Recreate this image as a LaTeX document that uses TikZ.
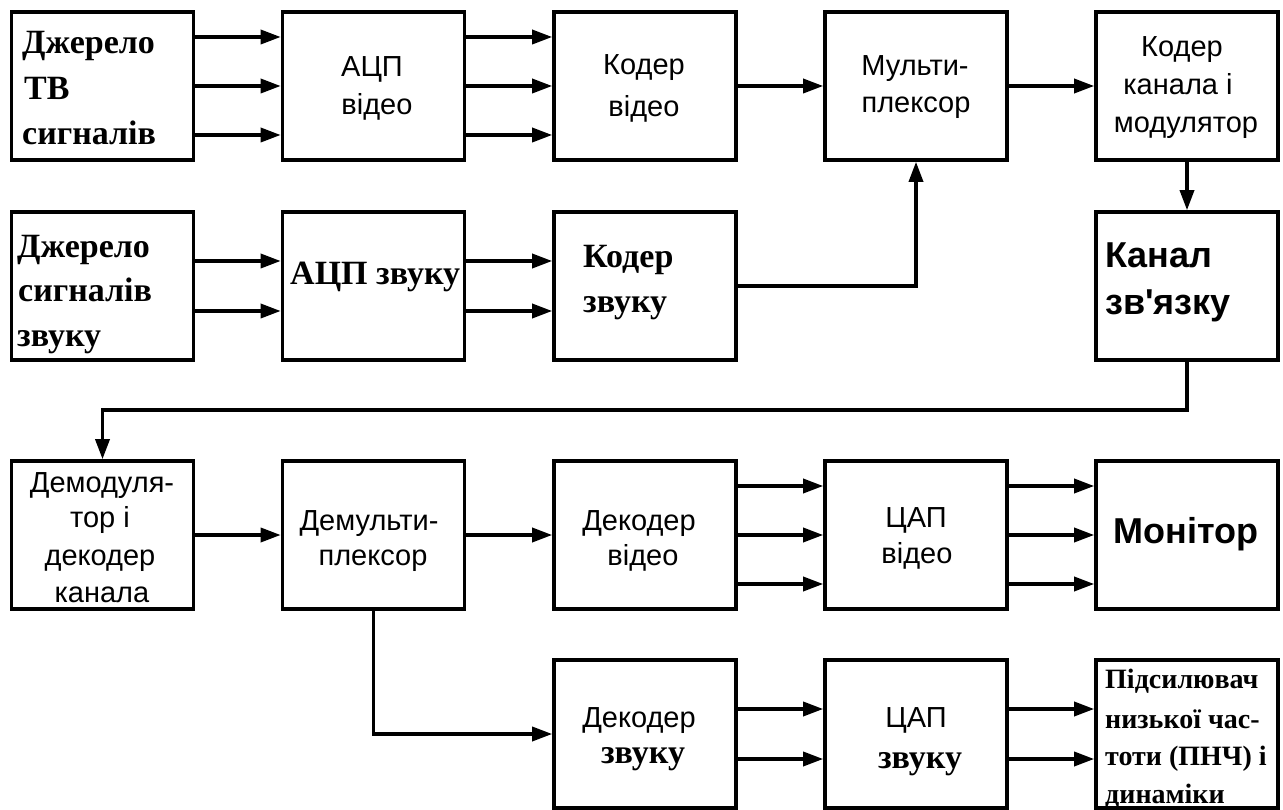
\documentclass[tikz,border=0pt]{standalone}
\usepackage{fontspec}
\setmainfont{Liberation Serif}
\newfontfamily\sansf{Liberation Sans}
\usetikzlibrary{arrows.meta}
\begin{document}
\begin{tikzpicture}[x=1pt,y=-1pt,
  blk/.style={draw, line width=3.6pt, minimum width=182pt, minimum height=148pt, inner sep=0pt},
  arr/.style={line width=3.4pt, -{Triangle[length=20pt,width=14pt]}},
  sn/.style={font=\sansf\fontsize{29}{35}\selectfont, inner sep=0pt, anchor=base},
  sbc/.style={font=\bfseries\fontsize{34}{40}\selectfont, inner sep=0pt, anchor=base},
  sbl/.style={font=\bfseries\fontsize{34}{40}\selectfont, inner sep=0pt, anchor=base west},
  sql/.style={font=\bfseries\fontsize{28}{34}\selectfont, inner sep=0pt, anchor=base west},
  snb/.style={font=\sansf\bfseries\fontsize{36}{42}\selectfont, inner sep=0pt},
]
\useasboundingbox (0,0) rectangle (1283,810);
% blocks
\node[blk] (A) at (102.5,86) {};
\node[blk] (B) at (373.5,86) {};
\node[blk] (C) at (645,86) {};
\node[blk] (D) at (916,86) {};
\node[blk] (E) at (1187,86) {};
\node[blk] (F) at (102.5,286) {};
\node[blk] (G) at (373.5,286) {};
\node[blk] (H) at (645,286) {};
\node[blk] (I) at (1187,286) {};
\node[blk] (J) at (102.5,535) {};
\node[blk] (K) at (373.5,535) {};
\node[blk] (L) at (645,535) {};
\node[blk] (M) at (916,535) {};
\node[blk] (N) at (1187,535) {};
\node[blk] (O) at (645,734) {};
\node[blk] (P) at (916,734) {};
\node[blk] (Q) at (1187,734) {};
% texts
\node[sbl] (tA1) at (22,54) {Джерело};
\node[sbl] (tA2) at (24,100) {ТВ};
\node[sbl] (tA3) at (22,145) {сигналів};
\node[sn] (tB1) at (372,77) {АЦП};
\node[sn] (tB2) at (377,115) {відео};
\node[sn] (tC1) at (644,75) {Кодер};
\node[sn] (tC2) at (644,117) {відео};
\node[sn] (tD1) at (915,76) {Мульти-};
\node[sn] (tD2) at (916,113) {плексор};
\node[sn] (tE1) at (1182,57) {Кодер};
\node[sn] (tE2) at (1178,95) {канала і};
\node[sn] (tE3) at (1186,133) {модулятор};
\node[sbl] (tF1) at (17,258) {Джерело};
\node[sbl] (tF2) at (18,302) {сигналів};
\node[sbl] (tF3) at (17,347) {звуку};
\node[sbl] (tG1) at (290,285) {АЦП звуку};
\node[sbl] (tH1) at (583,268) {Кодер};
\node[sbl] (tH2) at (583,313) {звуку};
\node[snb, anchor=base west] (tI1) at (1105,268) {Канал};
\node[snb, anchor=base west] (tI2) at (1105,315) {зв'язку};
\node[sn] (tJ1) at (102,492) {Демодуля-};
\node[sn] (tJ2) at (100,527) {тор і};
\node[sn] (tJ3) at (100,565) {декодер};
\node[sn] (tJ4) at (102,602) {канала};
\node[sn] (tK1) at (369,530) {Демульти-};
\node[sn] (tK2) at (373,565) {плексор};
\node[sn] (tL1) at (639,530) {Декодер};
\node[sn] (tL2) at (643,565) {відео};
\node[sn] (tM1) at (916,527) {ЦАП};
\node[sn] (tM2) at (917,563) {відео};
\node[snb, anchor=base] (tN1) at (1186,543) {Монітор};
\node[sn] (tO1) at (639,727) {Декодер};
\node[sbc] (tO2) at (643,763) {звуку};
\node[sn] (tP1) at (916,727) {ЦАП};
\node[sbc] (tP2) at (920,768) {звуку};
\node[sql] (tQ1) at (1105,688) {Підсилювач};
\node[sql] (tQ2) at (1105,728) {низької час-};
\node[sql] (tQ3) at (1105,765) {тоти (ПНЧ) і};
\node[sql] (tQ4) at (1105,803) {динаміки};
% connectors
\foreach \s in {49,0,-49} {
  \draw[arr] ([yshift=\s pt]A.east) -- ([yshift=\s pt]B.west);
  \draw[arr] ([yshift=\s pt]B.east) -- ([yshift=\s pt]C.west);
  \draw[arr] ([yshift=\s pt]L.east) -- ([yshift=\s pt]M.west);
  \draw[arr] ([yshift=\s pt]M.east) -- ([yshift=\s pt]N.west);
}
\foreach \s in {25,-25} {
  \draw[arr] ([yshift=\s pt]F.east) -- ([yshift=\s pt]G.west);
  \draw[arr] ([yshift=\s pt]G.east) -- ([yshift=\s pt]H.west);
  \draw[arr] ([yshift=\s pt]O.east) -- ([yshift=\s pt]P.west);
  \draw[arr] ([yshift=\s pt]P.east) -- ([yshift=\s pt]Q.west);
}
\draw[arr] (C.east) -- (D.west);
\draw[arr] (D.east) -- (E.west);
\draw[arr] (H.east) -| (D.south);
\draw[arr] (E.south) -- (I.north);
\coordinate (bend) at (645,410);
\draw[arr] (I.south) |- (bend) -| (J.north);
\draw[arr] (J.east) -- (K.west);
\draw[arr] (K.east) -- (L.west);
\draw[arr] (K.south) |- (O.west);
\end{tikzpicture}
\end{document}
